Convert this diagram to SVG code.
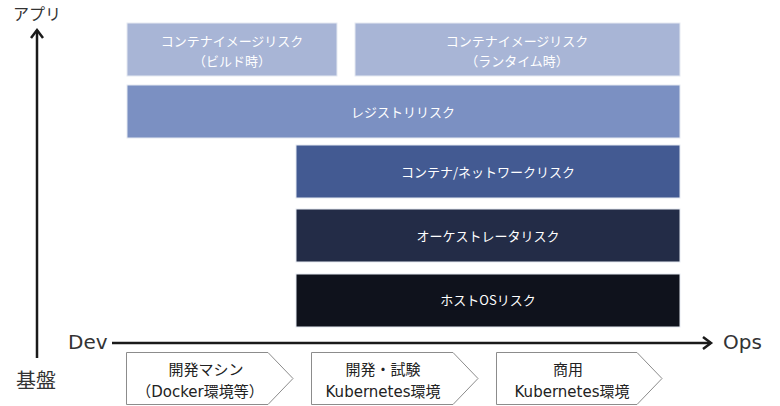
<svg xmlns="http://www.w3.org/2000/svg" width="780" height="406" viewBox="0 0 780 406">
<defs>
<style>
.t{font-family:"Noto Sans CJK JP","Noto Sans",sans-serif;fill:#fff;font-size:13px;text-anchor:middle}
.ax{font-family:"DejaVu Sans","Noto Sans CJK JP",sans-serif;fill:#333;font-size:20px}
.jp{font-family:"Noto Sans CJK JP","Noto Sans",sans-serif;fill:#333;text-anchor:middle}
.c{font-family:"DejaVu Sans","Noto Sans CJK JP",sans-serif;fill:#222;font-size:15px;text-anchor:middle}
.box{stroke:#e6eaf2;stroke-width:1}
.chev{fill:#fff;stroke:#8c8c8c;stroke-width:1}
.axis{stroke:#1a1a1a;stroke-width:2.5;fill:none}
</style>
</defs>
<g id="connectors">
<line class="axis" x1="37" y1="358" x2="37" y2="30"/>
<polyline class="axis" points="31,38 37,30 43,38"/>
<line class="axis" x1="112" y1="343" x2="711" y2="343"/>
<polyline class="axis" points="703,337 711,343 703,349"/>
</g>
<g id="label-app"><text class="jp" x="37" y="20" font-size="16">アプリ</text></g>
<g id="label-base"><text class="jp" x="36" y="388" font-size="20">基盤</text></g>
<g id="label-dev"><text class="ax" x="68" y="349">Dev</text></g>
<g id="label-ops"><text class="ax" x="723" y="349">Ops</text></g>
<g id="image-build">
<rect class="box" x="127" y="23" width="210" height="53" fill="#a8b5d6"/>
<text class="t" x="232" y="46">コンテナイメージリスク</text>
<text class="t" x="232" y="66">（ビルド時）</text>
</g>
<g id="image-runtime">
<rect class="box" x="355" y="23" width="325" height="53" fill="#a8b5d6"/>
<text class="t" x="517" y="46">コンテナイメージリスク</text>
<text class="t" x="517" y="66">（ランタイム時）</text>
</g>
<g id="registry">
<rect class="box" x="127" y="85" width="553" height="53" fill="#7b90c2"/>
<text class="t" x="403" y="117">レジストリリスク</text>
</g>
<g id="network">
<rect class="box" x="296" y="145" width="384" height="53" fill="#435a92"/>
<text class="t" x="488" y="177">コンテナ/ネットワークリスク</text>
</g>
<g id="orchestrator">
<rect class="box" x="296" y="209" width="384" height="53" fill="#232c47"/>
<text class="t" x="488" y="241">オーケストレータリスク</text>
</g>
<g id="hostos">
<rect class="box" x="296" y="274" width="384" height="53" fill="#0f121c"/>
<text class="t" x="488" y="305">ホストOSリスク</text>
</g>
<g id="env-dev">
<polygon class="chev" points="126.5,352.5 268,352.5 293,378.5 268,404.5 126.5,404.5"/>
<text class="c" x="206" y="375">開発マシン</text>
<text class="c" x="200" y="397">（Docker環境等）</text>
</g>
<g id="env-test">
<polygon class="chev" points="311.5,352.5 453,352.5 478,378.5 453,404.5 311.5,404.5"/>
<text class="c" x="383" y="375">開発・試験</text>
<text class="c" x="383" y="397">Kubernetes環境</text>
</g>
<g id="env-prod">
<polygon class="chev" points="496.5,352.5 637,352.5 662,378.5 637,404.5 496.5,404.5"/>
<text class="c" x="568" y="375">商用</text>
<text class="c" x="572" y="397">Kubernetes環境</text>
</g>
</svg>
